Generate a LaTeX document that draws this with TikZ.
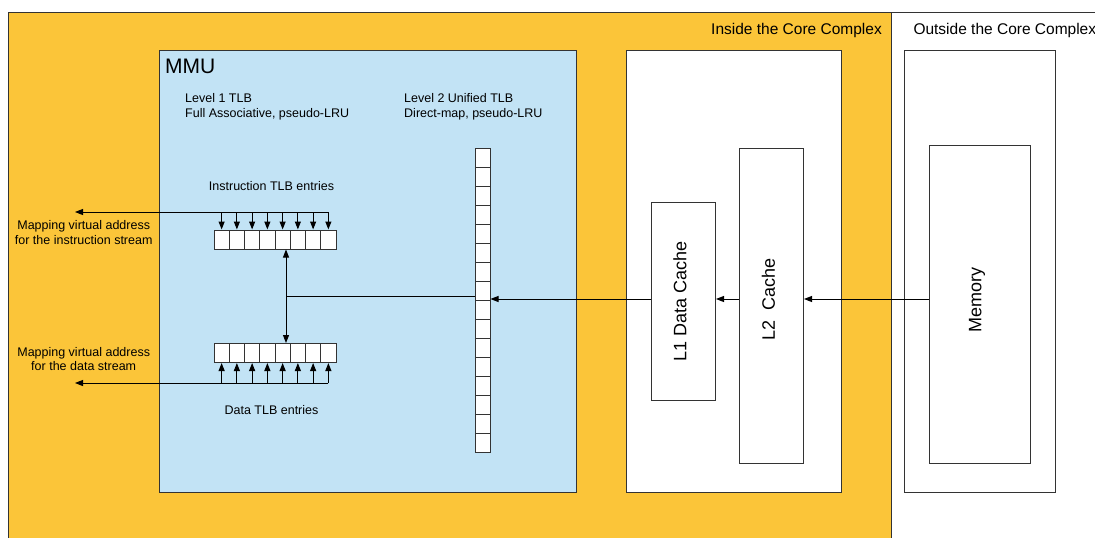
\documentclass[tikz,border=0pt]{standalone}
\usepackage{fontspec}
\setmainfont{Liberation Sans}
\usetikzlibrary{arrows.meta}
\definecolor{coreorange}{HTML}{FBC539}
\definecolor{mmublue}{HTML}{C2E3F5}
\definecolor{edgecol}{HTML}{333333}
\begin{document}
\begin{tikzpicture}[x=1pt,y=-1pt,
  box/.style={draw=edgecol,line width=1pt,inner sep=0pt,anchor=north west},
  cell/.style={draw=edgecol,fill=white,line width=1pt,inner sep=0pt,minimum width=15.25pt,minimum height=19pt},
  vcell/.style={draw=edgecol,fill=white,line width=1pt,inner sep=0pt,minimum width=15pt,minimum height=19pt},
  conn/.style={line width=1pt,draw=black},
  arr/.style={conn,-{Triangle[length=8pt,width=6pt]}},
  darr/.style={conn,{Triangle[length=8pt,width=6pt]}-{Triangle[length=8pt,width=6pt]}},
  small/.style={font=\fontsize{12.5}{15}\selectfont,inner sep=0pt},
  mid/.style={font=\fontsize{15.5}{18}\selectfont,inner sep=0pt},
  big/.style={font=\fontsize{18}{21}\selectfont,inner sep=0pt,rotate=90},
]
\useasboundingbox (0,0) rectangle (1095,538);
\fill[white] (0,0) rectangle (1095,538);
\clip (0,0) rectangle (1095,538);

% regions
\node[box,fill=coreorange,minimum width=883pt,minimum height=540pt] (inside) at (8,12) {};
\node[box,fill=white,minimum width=220pt,minimum height=540pt] (outside) at (891,12) {};

% containers
\node[box,fill=mmublue,minimum width=417pt,minimum height=442pt] (mmu) at (159,50) {};
\node[box,fill=white,minimum width=215pt,minimum height=442pt] (cachebox) at (626,50) {};
\node[box,fill=white,minimum width=151pt,minimum height=442pt] (outbox) at (904,50) {};

% caches and memory
\node[box,fill=white,minimum width=64pt,minimum height=198pt] (L1) at (651,202) {};
\node[box,fill=white,minimum width=64pt,minimum height=315pt] (L2) at (739,148) {};
\node[box,fill=white,minimum width=101pt,minimum height=318pt] (mem) at (929,145) {};
\node[big] (L1t) at (680,301) {L1 Data Cache};
\node[big] (L2t) at (768.5,299) {L2~~Cache};
\node[big] (memt) at (977,299.5) {Memory};

% TLB cells
\foreach \i in {1,...,8} {
  \node[cell] (i\i) at ({206.375+15.25*\i},239.5) {};
  \node[cell] (d\i) at ({206.375+15.25*\i},353) {};
}
\foreach \i in {1,...,16} {
  \node[vcell] (t\i) at (482.5,{138.5+19*\i}) {};
}

% instruction / data stream connectors
\coordinate (iout) at (75,212);
\coordinate (dout) at (75,383);
\draw[arr] (i8.center |- iout) -- (iout);
\foreach \i in {1,...,8} \draw[arr] (i\i.center |- iout) -- (i\i.north);
\draw[arr] (d8.center |- dout) -- (dout);
\foreach \i in {1,...,8} \draw[arr] (d\i.center |- dout) -- (d\i.south);

% junction to L2 TLB
\coordinate (jn) at (286,296);
\draw[darr] (jn |- i5.south) -- (jn |- d5.north);
\draw[conn] (jn) -- (jn -| t8.west);

% fill path
\coordinate (fy) at (0,299);
\draw[arr] (mem.west |- fy) -- (L2.east |- fy);
\draw[arr] (L2.west |- fy) -- (L1.east |- fy);
\draw[arr] (L1.west |- fy) -- (t9.east |- fy);

% labels
\node[font=\fontsize{21}{25}\selectfont,inner sep=0pt,anchor=base west] (mmut) at (165,73.5) {MMU};
\node[small,anchor=base west] (l1a) at (185,102) {Level 1 TLB};
\node[small,anchor=base west] (l1b) at (185,117) {Full Associative, pseudo-LRU};
\node[small,anchor=base west] (l2a) at (404,102) {Level 2 Unified TLB};
\node[small,anchor=base west] (l2b) at (404,117) {Direct-map, pseudo-LRU};
\node[small,anchor=base] (itl) at (271.5,190) {Instruction TLB entries};
\node[small,anchor=base] (dtl) at (271.5,414) {Data TLB entries};
\node[small,anchor=base] (ima) at (83.7,229.3) {Mapping virtual address};
\node[small,anchor=base] (imb) at (83.7,244.3) {for the instruction stream};
\node[small,anchor=base] (dma) at (83.7,356) {Mapping virtual address};
\node[small,anchor=base] (dmb) at (83.7,370.7) {for the data stream};
\node[mid,anchor=base east] (inl) at (882,34.3) {Inside the Core Complex};
\node[mid,anchor=base west] (outl) at (913.3,34.3) {Outside the Core Complex};
\end{tikzpicture}
\end{document}
